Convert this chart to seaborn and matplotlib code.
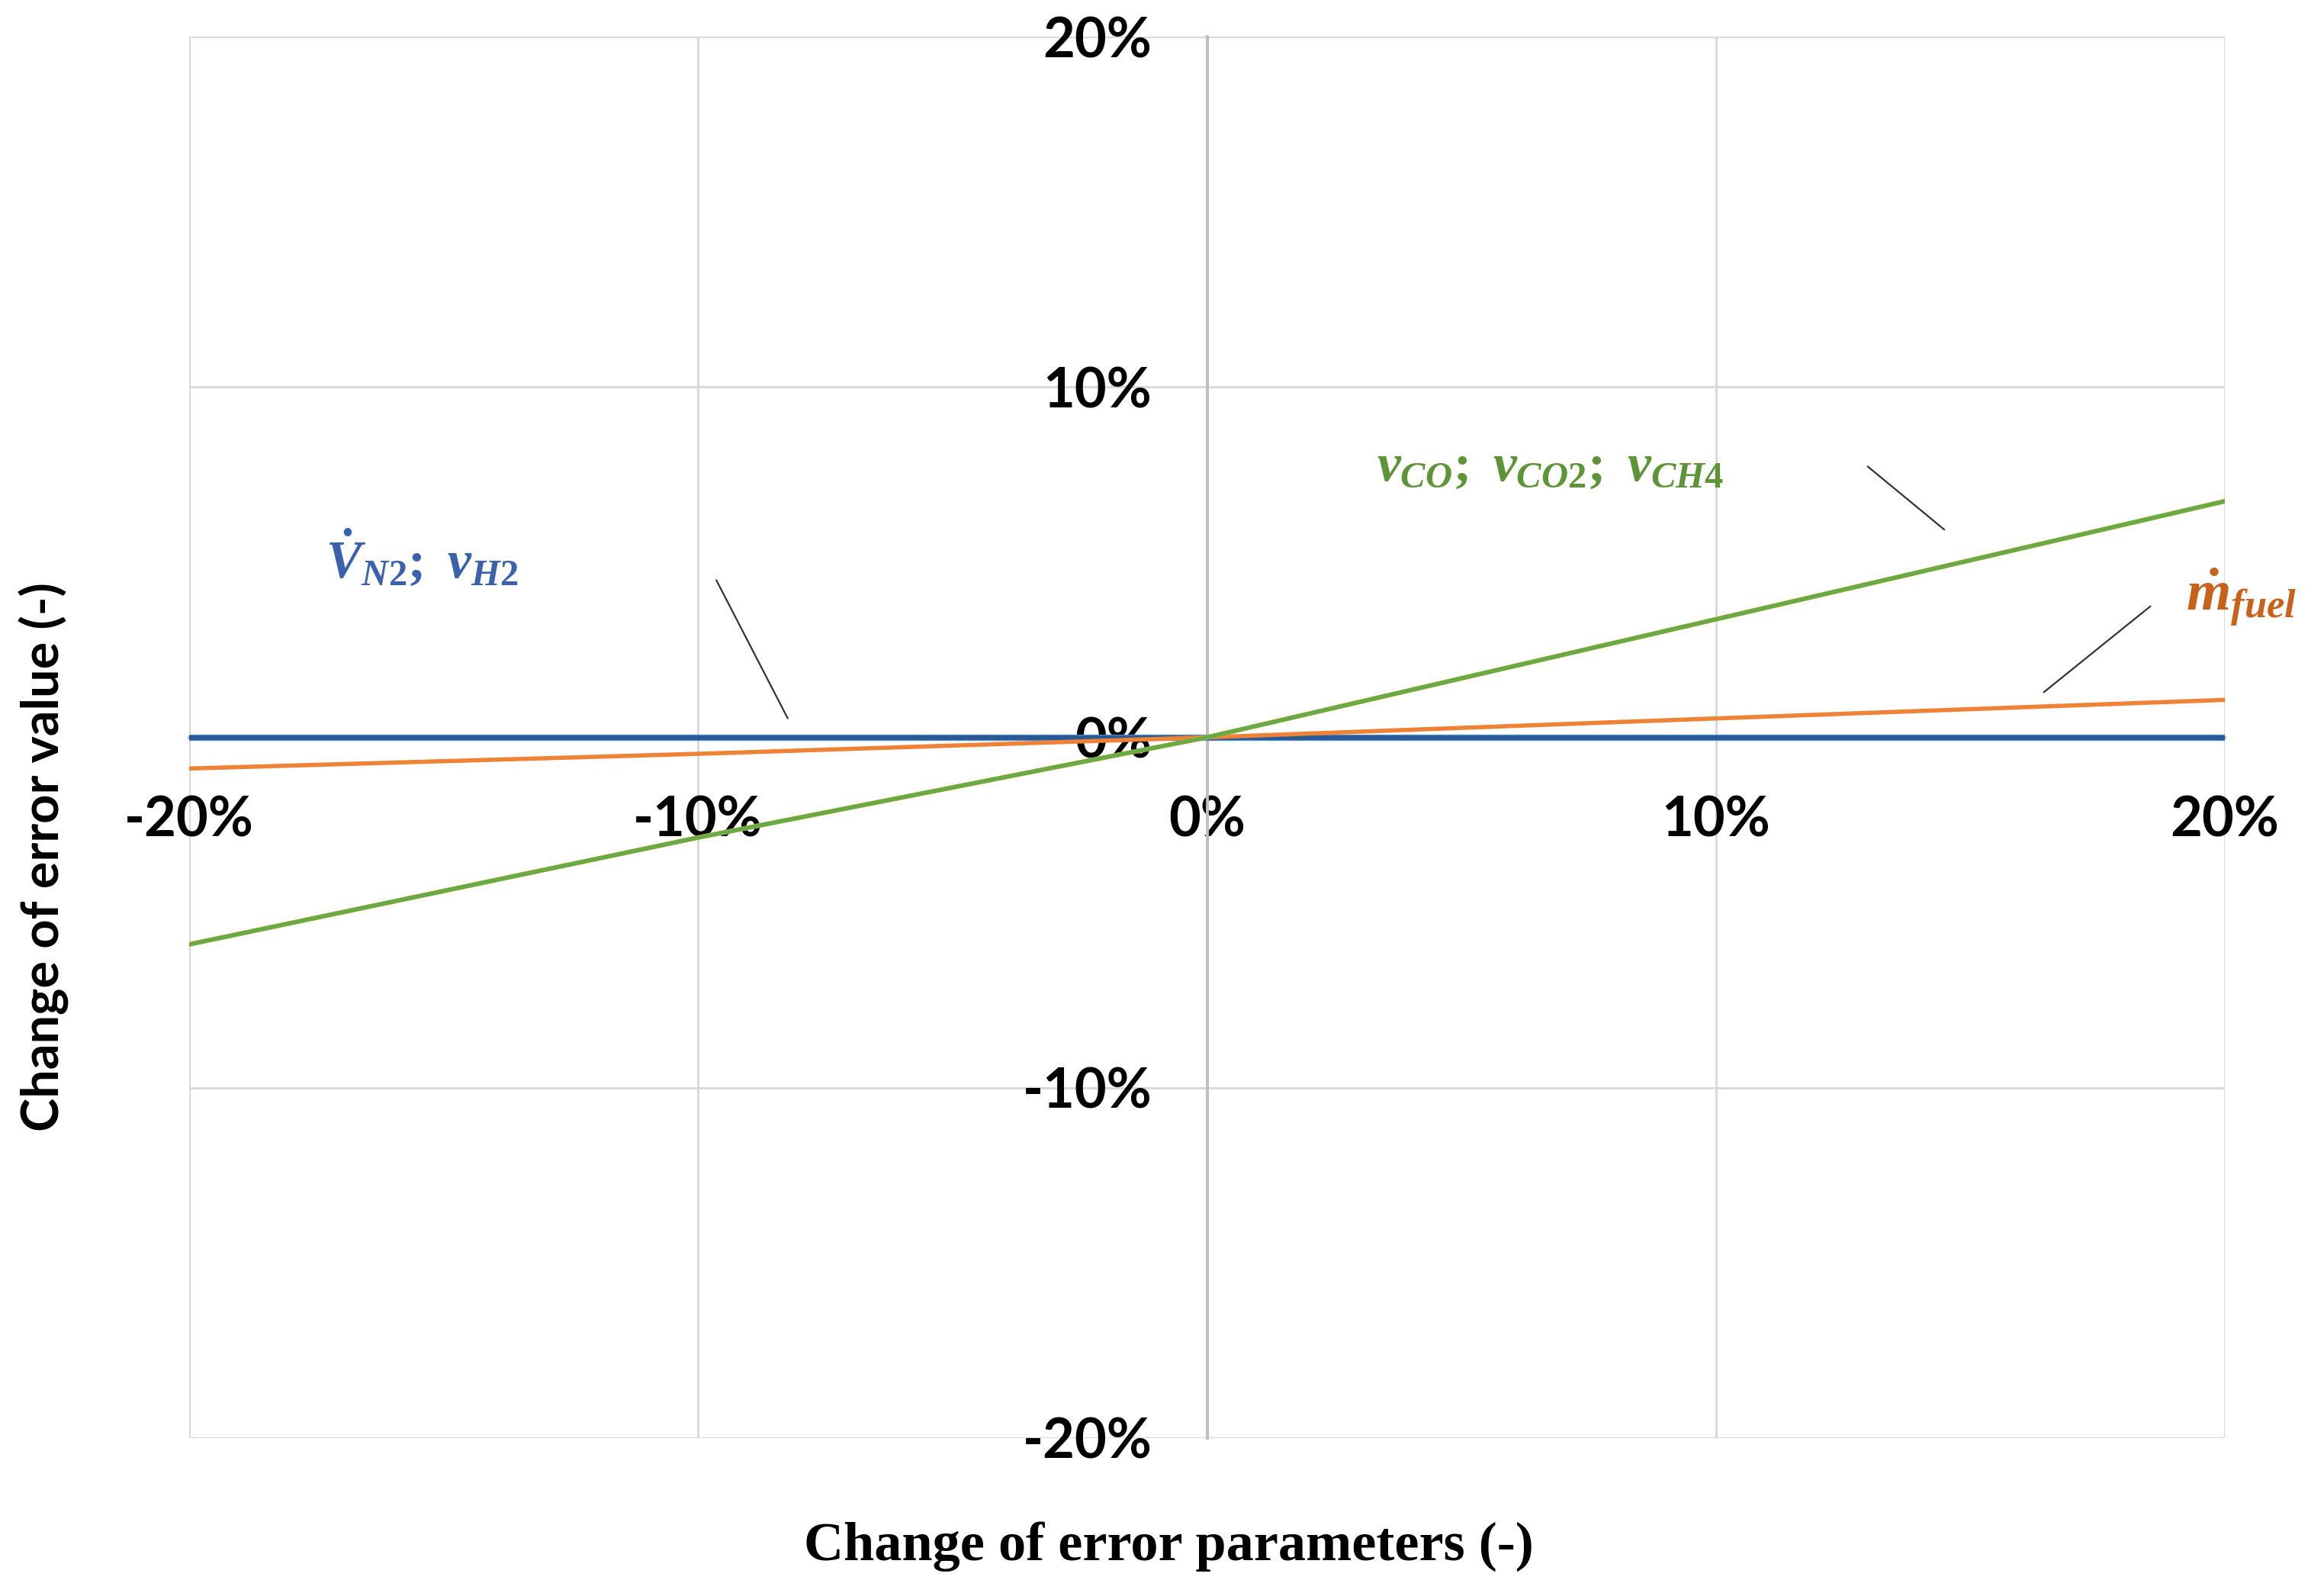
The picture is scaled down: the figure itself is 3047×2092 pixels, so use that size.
import numpy as np
import pandas as pd
import matplotlib
matplotlib.use('Agg')
import matplotlib.pyplot as plt
import seaborn as sns

sns.set_theme(style='white')
plt.rcParams['font.family'] = ['Lato', 'DejaVu Sans']
plt.rcParams['axes.unicode_minus'] = False
plt.rcParams['mathtext.fontset'] = 'custom'
plt.rcParams['mathtext.it'] = 'Liberation Serif:bold:italic'
plt.rcParams['mathtext.rm'] = 'Liberation Serif:bold'
plt.rcParams['mathtext.bf'] = 'Liberation Serif:bold'

# change of error parameters (%)
x_param = [-20, -10, 0, 10, 20]
# change of error value (%) per parameter
v_h2 = [0.0, 0.0, 0.0, 0.0, 0.0]
v_n2 = [0.0, 0.0, 0.0, 0.0, 0.0]
m_fuel = [-0.89, -0.47, 0.0, 0.54, 1.07]
v_co = [-5.91, -2.86, 0.0, 3.37, 6.74]
v_co2 = [-5.91, -2.86, 0.0, 3.37, 6.74]
v_ch4 = [-5.91, -2.86, 0.0, 3.37, 6.74]

tick_vals = [-20, -10, 0, 10, 20]
tick_labels = ['-20%', '-10%', '0%', '10%', '20%']

series = {'v_H2': v_h2, 'V_N2': v_n2, 'm_fuel': m_fuel,
          'v_CO': v_co, 'v_CO2': v_co2, 'v_CH4': v_ch4}
colors = {'v_H2': '#5B9BD5', 'V_N2': '#2A5A96', 'm_fuel': '#EE8236',
          'v_CO': '#FFC000', 'v_CO2': '#A5A5A5', 'v_CH4': '#6AAA44'}
widths = {'v_H2': 6.0, 'V_N2': 4.6, 'm_fuel': 4.0,
          'v_CO': 4.4, 'v_CO2': 4.0, 'v_CH4': 3.9}

df = pd.concat([pd.DataFrame({'x': x_param, 'y': v, 'series': k})
                for k, v in series.items()], ignore_index=True)

fig = plt.figure(figsize=(30.47, 20.92), dpi=100)
ax = fig.add_axes([248/3047, 1-1885/2092, 2669/3047, 1837/2092])

for k in series:
    sns.lineplot(data=df[df.series == k], x='x', y='y', color=colors[k],
                 linewidth=widths[k], ax=ax, legend=False, zorder=3)

ax.set_xlim(-20, 20)
ax.set_ylim(-20, 20)
ax.set_xticks(tick_vals)
ax.set_yticks(tick_vals)
ax.grid(True, color='#d9d9d9', linewidth=2.2)
ax.set_axisbelow(True)
for s in ['top', 'right']:
    ax.spines[s].set_visible(False)
ax.spines['left'].set_position(('data', 0))
ax.spines['bottom'].set_position(('data', 0))
for s in ['left', 'bottom']:
    ax.spines[s].set_color('#bfbfbf')
    ax.spines[s].set_linewidth(2.8)
    ax.spines[s].set_zorder(2)
ax.tick_params(axis='x', length=0, pad=55, labelsize=52, labelcolor='black')
ax.tick_params(axis='y', length=0, pad=52, labelsize=52, labelcolor='black')
ax.set_xticklabels(tick_labels, fontweight='bold', fontsize=52)
ax.set_yticklabels(tick_labels, fontweight='bold', fontsize=52)

ax.set_xlabel('Change of error parameters (-)', family=['Liberation Serif'],
              fontweight='bold', fontsize=52, color='black', va='center')
ax.xaxis.set_label_coords((1532-248)/2669, 1-(2027-48)/1837)
ax.set_ylabel('Change of error value (-)', family=['Lato'],
              fontweight='bold', fontsize=48, color='black', va='center')
ax.yaxis.set_label_coords((58-248)/2669, 1-(1123-48)/1837)

# labels with leader lines
ax.text(-15.42, 5.15, r'$\dot{V}_{\mathit{N2}};\ v_{\mathit{H2}}$', color='#3A62AC',
        fontsize=50, ha='center', va='center')
ax.annotate('', xy=(-8.22, 0.49), xytext=(-9.66, 4.54),
            arrowprops=dict(arrowstyle='-', color='#333333', lw=1.6))
ax.text(6.74, 7.72, r'$v_{\mathit{CO}};\ v_{\mathit{CO2}};\ v_{\mathit{CH4}}$', color='#5E9438',
        fontsize=50, ha='center', va='center')
ax.annotate('', xy=(14.52, 5.89), xytext=(12.95, 7.77),
            arrowprops=dict(arrowstyle='-', color='#333333', lw=1.6))
ax.text(20.32, 4.0, r'$\dot{m}_{\mathit{fuel}}$', color='#C8611B',
        fontsize=54, ha='center', va='center', clip_on=False)
ax.annotate('', xy=(16.41, 1.25), xytext=(18.57, 3.78),
            arrowprops=dict(arrowstyle='-', color='#333333', lw=1.6))

fig.savefig('out.png', dpi=100, facecolor='white')
